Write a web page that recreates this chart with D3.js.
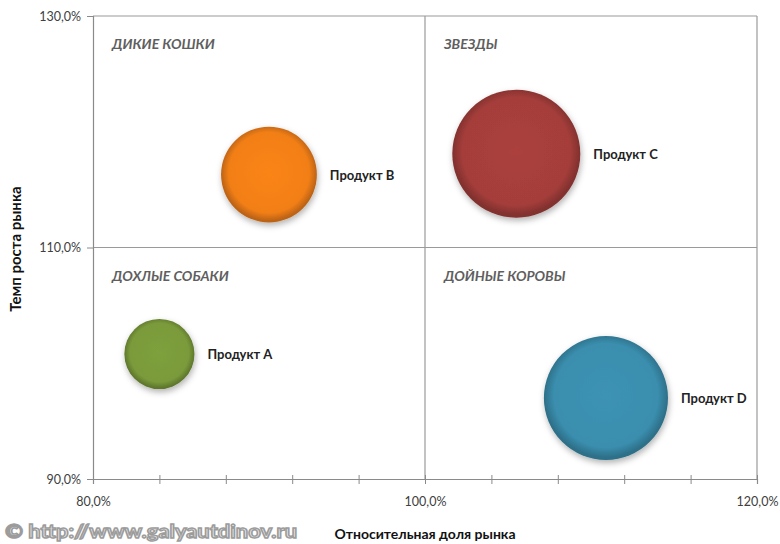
<!doctype html>
<html>
<head>
<meta charset="utf-8" />
<title>BCG matrix</title>
<style>
  html,body{margin:0;background:#fff}
  svg text{font-family:Lato, "Open Sans", sans-serif}
</style>
<script src="https://cdn.jsdelivr.net/npm/d3@7"></script>
</head>
<body>
<svg id="chart" width="780" height="544"></svg>
<script>
// ---- data ----
const products = ["Продукт A", "Продукт B", "Продукт C", "Продукт D"];
const share    = [84.0, 90.6, 105.5, 110.9];   // relative market share, %
const growth   = [100.8, 116.3, 118.1, 97.0];  // market growth rate, %
const sizes    = [30, 56, 100, 94];            // bubble size
const colors   = ["#7a9a3a", "#f27f18", "#a53e3b", "#3a8eae"];

const quadrants = ["ДИКИЕ КОШКИ", "ЗВЕЗДЫ", "ДОХЛЫЕ СОБАКИ", "ДОЙНЫЕ КОРОВЫ"];
const quadX = [80, 100, 80, 100];   // left edge of each quadrant (x value)
const quadY = [130, 130, 110, 110]; // top edge of each quadrant (y value)

const xTicks = [80, 100, 120];
const yTicks = [90, 110, 130];

// ---- layout ----
const svg = d3.select("#chart");
const L = 93, R = 757, T = 16, B = 479;
const x = d3.scaleLinear().domain([80, 120]).range([L, R]);
const y = d3.scaleLinear().domain([90, 130]).range([B, T]);
const r = d3.scaleSqrt().domain([0, 100]).range([0, 64]);
const fmt = v => d3.format(".1f")(v).replace(".", ",") + "%";

// gradients + shadow
const defs = svg.append("defs");
const sh = defs.append("filter").attr("id", "shadow")
  .attr("x", "-30%").attr("y", "-30%").attr("width", "160%").attr("height", "160%");
sh.append("feDropShadow").attr("dx", 1).attr("dy", 3).attr("stdDeviation", 3)
  .attr("flood-color", "#000").attr("flood-opacity", 0.3);

colors.forEach((c, i) => {
  const g = defs.append("radialGradient").attr("id", "grad" + i)
    .attr("cx", "50%").attr("cy", "48%").attr("r", "50%");
  g.append("stop").attr("offset", "0%").attr("stop-color", d3.color(c).brighter(0.1));
  g.append("stop").attr("offset", "84%").attr("stop-color", c);
  g.append("stop").attr("offset", "100%").attr("stop-color", d3.color(c).darker(0.7));
});

// gridlines at major units
const grid = svg.append("g").attr("stroke", "#9a9a9a").attr("stroke-width", 1.2);
[100, 120].forEach(v => grid.append("line")
  .attr("x1", x(v)).attr("x2", x(v)).attr("y1", T).attr("y2", B));
[110, 130].forEach(v => grid.append("line")
  .attr("x1", L).attr("x2", R).attr("y1", y(v)).attr("y2", y(v)));

// x axis with minor ticks every 4%
const xAxis = svg.append("g").attr("transform", `translate(0,${B})`);
xAxis.call(d3.axisBottom(x).tickValues(d3.range(80, 120.1, 4)).tickSize(5).tickFormat(""));
xAxis.selectAll(".tick line").attr("y1", -4).attr("stroke", "#8a8a8a");
xAxis.select(".domain").attr("stroke", "#8a8a8a").attr("stroke-width", 1.2);
xAxis.selectAll(".tick").filter(d => xTicks.includes(d)).append("text")
  .attr("y", 27).attr("text-anchor", "middle").attr("fill", "#404040")
  .attr("font-size", 12.5).text(d => fmt(d));

// y axis
const yAxis = svg.append("g").attr("transform", `translate(${L},0)`);
yAxis.call(d3.axisLeft(y).tickValues(yTicks).tickSize(6).tickFormat(fmt));
yAxis.select(".domain").attr("stroke", "#8a8a8a").attr("stroke-width", 1.2);
yAxis.selectAll(".tick line").attr("stroke", "#8a8a8a");
yAxis.selectAll(".tick text").attr("fill", "#404040").attr("font-size", 12.5)
  .attr("font-family", "Lato, sans-serif").attr("x", -12);

// quadrant labels
svg.append("g").selectAll("text").data(quadrants).join("text")
  .attr("x", (d, i) => x(quadX[i]) + 19)
  .attr("y", (d, i) => y(quadY[i]) + 33)
  .attr("font-size", 14).attr("font-weight", "bold").attr("font-style", "italic")
  .attr("fill", "#5f5f5f").text(d => d);

// bubbles
const bub = svg.append("g");
products.forEach((p, i) => {
  bub.append("circle")
    .attr("cx", x(share[i])).attr("cy", y(growth[i])).attr("r", r(sizes[i]))
    .attr("fill", `url(#grad${i})`).attr("filter", "url(#shadow)");
  bub.append("text")
    .attr("x", x(share[i]) + r(sizes[i]) + 13).attr("y", y(growth[i]) + 5)
    .attr("font-size", 13).attr("font-weight", "bold").attr("fill", "#222")
    .text(p);
});

// axis titles
svg.append("text").attr("x", 425).attr("y", 539).attr("text-anchor", "middle")
  .attr("font-family", "'Open Sans', sans-serif")
  .attr("font-size", 14).attr("font-weight", "bold").attr("fill", "#111")
  .text("Относительная доля рынка");
svg.append("text").attr("transform", `translate(21,249) rotate(-90)`)
  .attr("font-family", "'Open Sans', sans-serif")
  .attr("text-anchor", "middle").attr("font-size", 15).attr("font-weight", "bold")
  .attr("fill", "#111").text("Темп роста рынка");

// watermark
svg.append("text").attr("x", 5).attr("y", 538)
  .attr("font-family", "'DejaVu Sans Condensed', sans-serif")
  .attr("font-size", 18).attr("font-weight", "bold")
  .attr("textLength", 292).attr("lengthAdjust", "spacingAndGlyphs")
  .attr("fill", "#ececec").attr("stroke", "#9c9c9c").attr("stroke-width", 1.4)
  .text("© http://www.galyautdinov.ru");
</script>
</body>
</html>
